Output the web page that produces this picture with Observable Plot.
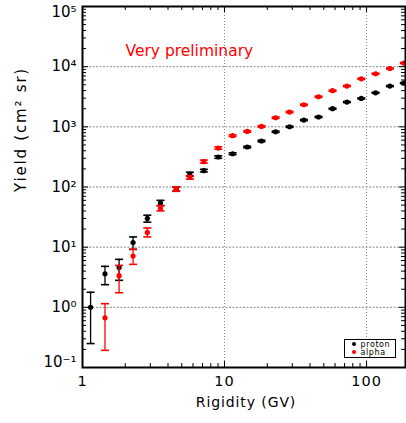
<!DOCTYPE html>
<html><head><meta charset="utf-8">
<script src="https://cdn.jsdelivr.net/npm/d3@7"></script>
<script src="https://cdn.jsdelivr.net/npm/@observablehq/plot@0.6"></script>
<style>
body{margin:0;background:#fff;}
#wrap{position:relative;width:406px;height:423px;}
#wrap svg text{font-family:"DejaVu Sans",sans-serif;}
#legend{position:absolute;left:344px;top:339px;width:52px;height:19px;box-sizing:border-box;border:1.5px solid #000;background:#fff;
  font:8px "DejaVu Sans",sans-serif;line-height:8px;padding:0.5px 0 0 6.5px;letter-spacing:0.6px;color:#000;}
#legend .dot{display:inline-block;width:4px;height:4px;border-radius:50%;margin-right:5px;vertical-align:1px;}
</style></head><body>
<div id="wrap"><div id="legend"><div><span class="dot" style="background:#000"></span>proton</div><div><span class="dot" style="background:#f00"></span>alpha</div></div></div>
<script>
// ---- data ----
const protonRigidity = [1.14, 1.44, 1.81, 2.27, 2.86, 3.54, 4.57, 5.7, 7.15, 9.03, 11.4, 14.45, 18.2, 22.9, 28.7, 36.2, 45.9, 57.6, 72.7, 91.8, 115.7, 146, 183];
const protonYield = [1.0, 3.6, 4.6, 11.9, 30, 54, 92, 164, 187, 315, 357, 462, 581, 829, 1004, 1297, 1456, 2000, 2582, 2965, 3681, 4760, 5340];
const protonLo = [0.25, 2.38, 2.81, 9.2, 26, 49, 85, 152, 178, 300, 345, 448, 565, 808, 980, 1268, 1425, 1958, 2530, 2905, 3610, 4670, 5240];
const protonHi = [1.78, 4.8, 6.27, 14.8, 34, 60, 100, 176, 197, 330, 370, 476, 598, 850, 1028, 1326, 1488, 2042, 2634, 3025, 3752, 4850, 5440];

const alphaRigidity = [1.44, 1.81, 2.27, 2.86, 3.54, 4.57, 5.7, 7.15, 9.03, 11.4, 14.45, 18.2, 22.9, 28.7, 36.2, 45.9, 57.6, 72.7, 91.8, 115.7, 146, 183];
const alphaYield = [0.67, 3.36, 7.1, 17.6, 44, 92.6, 144, 264, 444, 712, 839, 1016, 1417, 1762, 2330, 3163, 3984, 4760, 6290, 7620, 9330, 11480];
const alphaLo = [0.193, 1.75, 5.18, 14.8, 40, 85, 135, 250, 425, 690, 815, 988, 1380, 1718, 2275, 3090, 3895, 4655, 6155, 7460, 9140, 11250];
const alphaHi = [1.15, 4.98, 9.2, 20.8, 49, 100, 154, 280, 465, 735, 864, 1045, 1455, 1806, 2385, 3236, 4073, 4865, 6425, 7780, 9520, 11710];

const xTickValues = [1, 10, 100];
const xTickLabels = ["1", "10", "100"];
const yTickValues = [0.1, 1, 10, 100, 1000, 10000, 100000];
const yTickLabels = ["10⁻¹", "10⁰", "10¹", "10²", "10³", "10⁴", "10⁵"];
const xGrid = [10, 100];
const yGrid = [1, 10, 100, 1000, 10000];
const minorMultipliers = [2, 3, 4, 5, 6, 7, 8, 9];
const xDecades = [1, 10, 100];
const yDecades = [0.1, 1, 10, 100, 1000, 10000];

// ---- layout ----
const W = 406, H = 423, mL = 82, mR = 1, mT = 6, mB = 56;
const innerW = W - mL - mR, innerH = H - mT - mB;
const xMax = 188;

const xMinor = xDecades.flatMap(d => minorMultipliers.map(m => m * d)).filter(v => v < xMax);
const yMinor = yDecades.flatMap(d => minorMultipliers.map(m => m * d));

const protonRows = protonRigidity.map((x, i) => ({x, y: protonYield[i], lo: protonLo[i], hi: protonHi[i]}));
const alphaRows = alphaRigidity.map((x, i) => ({x, y: alphaYield[i], lo: alphaLo[i], hi: alphaHi[i]}));
const yLabelRows = yTickValues.map((v, i) => ({v, label: yTickLabels[i], i}));
const last = yTickValues.length - 1;

const cap = {draw(ctx, size) { const r = Math.sqrt(size / Math.PI); ctx.moveTo(-r, 0); ctx.lineTo(r, 0); }};

function series(rows, color) {
  return [
    Plot.ruleX(rows, {x: "x", y1: "lo", y2: "hi", stroke: color, strokeWidth: 1.3}),
    Plot.dot(rows, {x: "x", y: "lo", symbol: cap, r: 4, stroke: color, fill: "none", strokeWidth: 1.6}),
    Plot.dot(rows, {x: "x", y: "hi", symbol: cap, r: 4, stroke: color, fill: "none", strokeWidth: 1.6}),
    Plot.dot(rows, {x: "x", y: "y", r: 2.6, fill: color, stroke: "none"})
  ];
}
const ticksY = (vals, len) => [
  Plot.ruleY(vals, {y: d => d, insetRight: innerW - len, stroke: "#000", strokeWidth: 1}),
  Plot.ruleY(vals, {y: d => d, insetLeft: innerW - len, stroke: "#000", strokeWidth: 1})
];
const ticksX = (vals, len) => [
  Plot.ruleX(vals, {x: d => d, insetTop: innerH - len, stroke: "#000", strokeWidth: 1}),
  Plot.ruleX(vals, {x: d => d, insetBottom: innerH - len, stroke: "#000", strokeWidth: 1})
];
const yLabels = (rows, dy) => Plot.text(rows, {y: "v", text: "label", frameAnchor: "left", dx: -6, dy, textAnchor: "end", fontSize: 15, fill: "#000"});

const chart = Plot.plot({
  width: W, height: H,
  marginLeft: mL, marginRight: mR, marginTop: mT, marginBottom: mB,
  style: {fontFamily: "DejaVu Sans, sans-serif", fontSize: "14px", background: "#fff", color: "#000"},
  x: {type: "log", domain: [1, xMax], axis: null},
  y: {type: "log", domain: [0.1, 100000], axis: null},
  marks: [
    Plot.ruleY(yGrid, {y: d => d, stroke: "#888", strokeWidth: 1, strokeDasharray: "2,1.5"}),
    Plot.ruleX(xGrid, {x: d => d, stroke: "#888", strokeWidth: 1, strokeDasharray: "1,2"}),
    ...ticksY(yMinor, 4),
    ...ticksY(yTickValues, 6),
    ...ticksX(xMinor, 4),
    ...ticksX(xTickValues, 6),
    Plot.text(xTickValues, {x: d => d, text: (d, i) => xTickLabels[i], frameAnchor: "bottom", dy: 18, fontSize: 14.5, fill: "#000"}),
    yLabels(yLabelRows.filter(d => d.i > 0 && d.i < last), 0),
    yLabels(yLabelRows.filter(d => d.i === 0), -5),
    yLabels(yLabelRows.filter(d => d.i === last), 6),
    ...series(protonRows, "#000"),
    ...series(alphaRows, "#f00"),
    Plot.frame({stroke: "#000", strokeWidth: 2}),
    Plot.text(["Very preliminary"], {frameAnchor: "top-left", dx: 43, dy: 38, textAnchor: "start", fill: "#f00", fontSize: 15.5}),
    Plot.text(["Rigidity (GV)"], {frameAnchor: "bottom", dx: 2, dy: 39, fontSize: 14, fill: "#000"}),
    Plot.text(["Yield (cm² sr)"], {frameAnchor: "left", dx: -61, dy: 5, rotate: -90, fontSize: 15, fill: "#000"})
  ]
});
document.getElementById("wrap").prepend(chart);
// letter spacing to mimic the wider original font
d3.select(chart).selectAll("text").each(function() {
  const t = this.textContent;
  if (t.startsWith("Rigidity")) this.style.letterSpacing = "0.9px";
  else if (t.startsWith("Yield")) this.style.letterSpacing = "1.8px";
  else if (/^1(0|00)?$/.test(t)) this.style.letterSpacing = "1px";
});
</script>
</body></html>
